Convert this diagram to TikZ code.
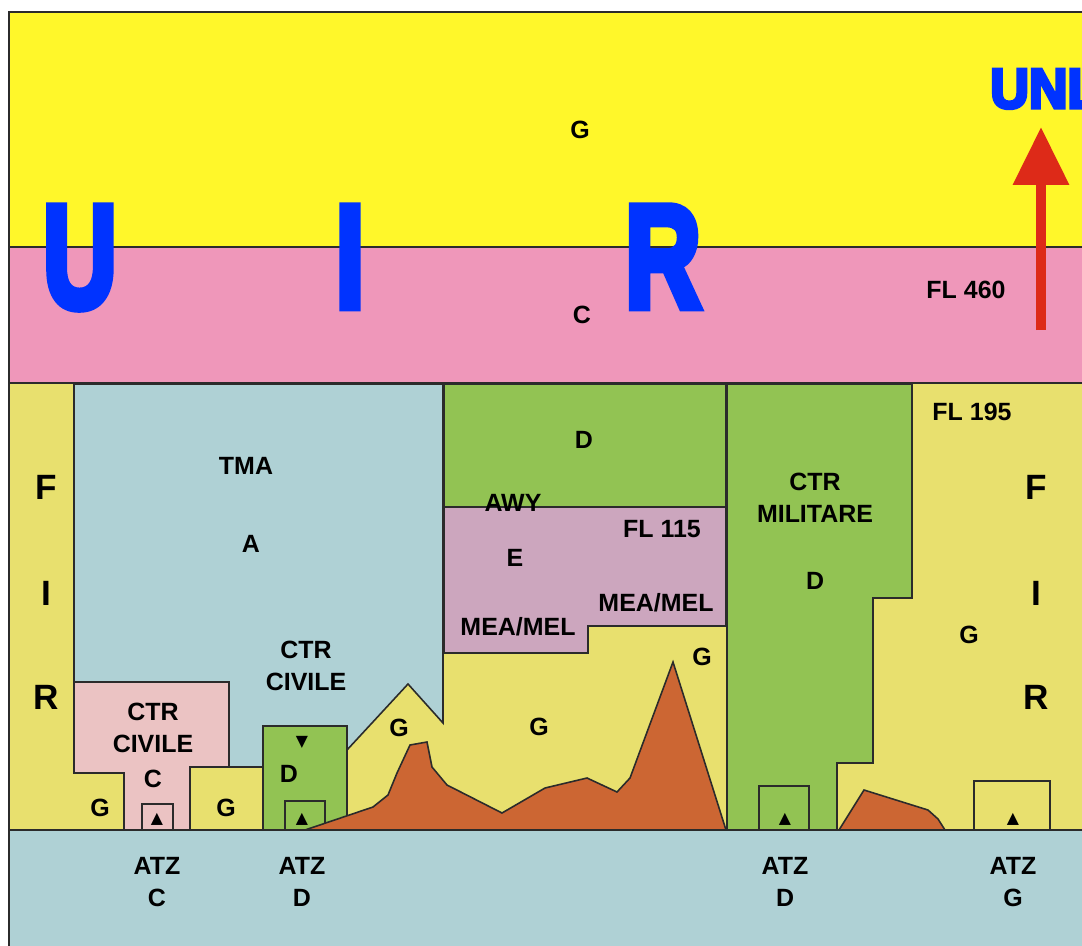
\documentclass[tikz,border=0pt]{standalone}
\usepackage{fontspec}
\setmainfont{Liberation Sans}
\newfontfamily\symfont{DejaVu Sans}
\newfontfamily\uirfont{Liberation Sans}[BoldFeatures={FakeBold=6}]
\usetikzlibrary{arrows.meta,positioning}
\definecolor{Edge}{HTML}{2B2B2B}
\definecolor{UpperG}{HTML}{FFF72A}
\definecolor{UpperC}{HTML}{EF97BA}
\definecolor{FirG}{HTML}{E8E06E}
\definecolor{TmaA}{HTML}{AFD1D5}
\definecolor{CtrD}{HTML}{92C353}
\definecolor{AwyE}{HTML}{CCA6BE}
\definecolor{CtrC}{HTML}{EBC3C3}
\definecolor{Relief}{HTML}{CC6633}
\definecolor{UirBlue}{HTML}{0033FF}
\definecolor{Climb}{HTML}{DD2A18}
\tikzset{
  zone/.style={draw=Edge,line width=0.9pt,line join=miter},
  tag/.style={font=\bfseries\fontsize{14.2}{18.2}\selectfont,align=center,inner sep=0pt},
  firtag/.style={font=\bfseries\fontsize{20}{24}\selectfont,inner sep=0pt},
  uirtag/.style={font=\uirfont\bfseries\fontsize{83}{83}\selectfont,text=UirBlue,
    inner sep=0pt,anchor=base},
  unltag/.style={font=\uirfont\bfseries\fontsize{32}{32}\selectfont,text=UirBlue,
    inner sep=0pt,anchor=base west},
  aptsym/.style={font=\symfont\fontsize{9}{9}\selectfont,text=black,inner sep=0pt},
  climb/.style={draw=Climb,line width=0.2cm,-{Triangle[width=1.08cm,length=1.16cm]}}
}

\begin{document}
\begin{tikzpicture}[x=0.02cm,y=-0.02cm]
  \useasboundingbox[fill=white] (0,0) rectangle (1082,946);
  \clip (0,0) rectangle (1082,946);
  % airspace bands
  \path[zone,fill=UpperG] (9,12) rectangle (1100,247);
  \path[zone,fill=UpperC] (9,247) rectangle (1100,383);
  \path[zone,fill=FirG] (9,383) rectangle (1100,830);
  \path[zone,fill=TmaA] (9,830) rectangle (1100,960);
  % TMA and civil CTR
  \path[zone,fill=TmaA] (74,384) -- (443,384) -- (443,723) -- (408,684) -- (347,750)
    -- (347,726) -- (263,726) -- (263,767) -- (229,767) -- (229,682) -- (74,682) -- cycle;
  \path[zone,fill=CtrC] (74,682) -- (229,682) -- (229,767) -- (190,767) -- (190,830)
    -- (124,830) -- (124,773) -- (74,773) -- cycle;
  \path[zone,fill=FirG] (190,767) rectangle (263,830);
  \path[zone,fill=CtrD] (263,726) rectangle (347,830);
  \path[zone] (142,804) rectangle (173,830);
  \path[zone] (285,801) rectangle (325,830);
  % relief
  \path[zone,fill=Relief] (305,830) -- (373,807) -- (388,795) -- (397,773) -- (410,745)
    -- (427,742) -- (432,767) -- (447,785) -- (502,813) -- (545,788) -- (587,778)
    -- (617,792) -- (630,778) -- (673,662) -- (726,830) -- cycle;
  % airway
  \path[zone,fill=CtrD] (444,384) rectangle (726,507);
  \path[zone,fill=AwyE] (444,507) -- (726,507) -- (726,626) -- (588,626) -- (588,653)
    -- (444,653) -- cycle;
  % military CTR
  \path[zone,fill=CtrD] (727,384) -- (912,384) -- (912,598) -- (873,598) -- (873,763)
    -- (837,763) -- (837,830) -- (727,830) -- cycle;
  \path[zone] (759,786) rectangle (809,830);
  \path[zone,fill=Relief] (839,830) -- (864,790) -- (928,810) -- (938,819) -- (945,830) -- cycle;
  \path[zone] (974,781) rectangle (1050,830);
  % UIR lettering
  \node[uirtag] (uirU) at (80,307) {\scalebox{0.7}[1]{U}};
  \node[uirtag] (uirI) at (350,307) {\scalebox{0.72}[1]{I}};
  \node[uirtag] (uirR) at (663,307) {\scalebox{0.72}[1]{R}};
  \node[unltag] (unl) at (990,108) {\scalebox{0.95}[1]{UNL}};
  \coordinate (climbFoot) at (1041,330);
  \coordinate (climbTop) at (1041,127);
  \draw[climb] (climbFoot) -- (climbTop);
  \node[tag] (gUpper) at (580,130) {G};
  \node[tag] (cUpper) at (582,315) {C};
  \node[tag] (fl460) at (966,290) {FL 460};
  \node[tag] (fl195) at (972,412) {FL 195};
  \node[tag] (fl115) at (662,529) {FL 115};
  % FIR letters
  \foreach \ltr/\y in {F/487,I/593,R/697} {
    \node[firtag] (firL\ltr) at (46,\y) {\ltr};
    \node[firtag] (firR\ltr) at (1036,\y) {\ltr};
  }
  % zone labels
  \node[tag] (tma) at (246,466) {TMA};
  \node[tag] (tmaA) at (251,544) {A};
  \node[tag] (ctrCivA) at (306,666) {CTR\\CIVILE};
  \node[tag] (ctrCivC) at (153,728) {CTR\\CIVILE};
  \node[tag] (ctrCivCls) at (153,779) {C};
  \node[tag] (gLeft) at (100,808) {G};
  \node[tag] (gMid) at (226,808) {G};
  \node[aptsym] (downD) at (302,742) {▼};
  \node[tag] (ctrD) at (289,774) {D};
  \node[tag] (gPeak) at (399,728) {G};
  \node[tag] (awyD) at (584,440) {D};
  \node[tag] (awy) at (513,503) {AWY};
  \node[tag] (awyE) at (515,558) {E};
  \node[tag] (meaL) at (518,627) {MEA/MEL};
  \node[tag] (meaR) at (656,603) {MEA/MEL};
  \node[tag] (gValley) at (539,727) {G};
  \node[tag] (gRidge) at (702,657) {G};
  \node[tag] (ctrMil) at (815,498) {CTR\\MILITARE};
  \node[tag] (ctrMilD) at (815,581) {D};
  \node[tag] (gEast) at (969,635) {G};
  % aerodromes
  \foreach \x/\cls [count=\i] in {157/C,302/D,785/D,1013/G} {
    \node[aptsym] (apt\i) at (\x,819) {▲};
    \node[tag] (atz\i) at (\x,882) {ATZ\\\cls};
  }
\end{tikzpicture}
\end{document}
